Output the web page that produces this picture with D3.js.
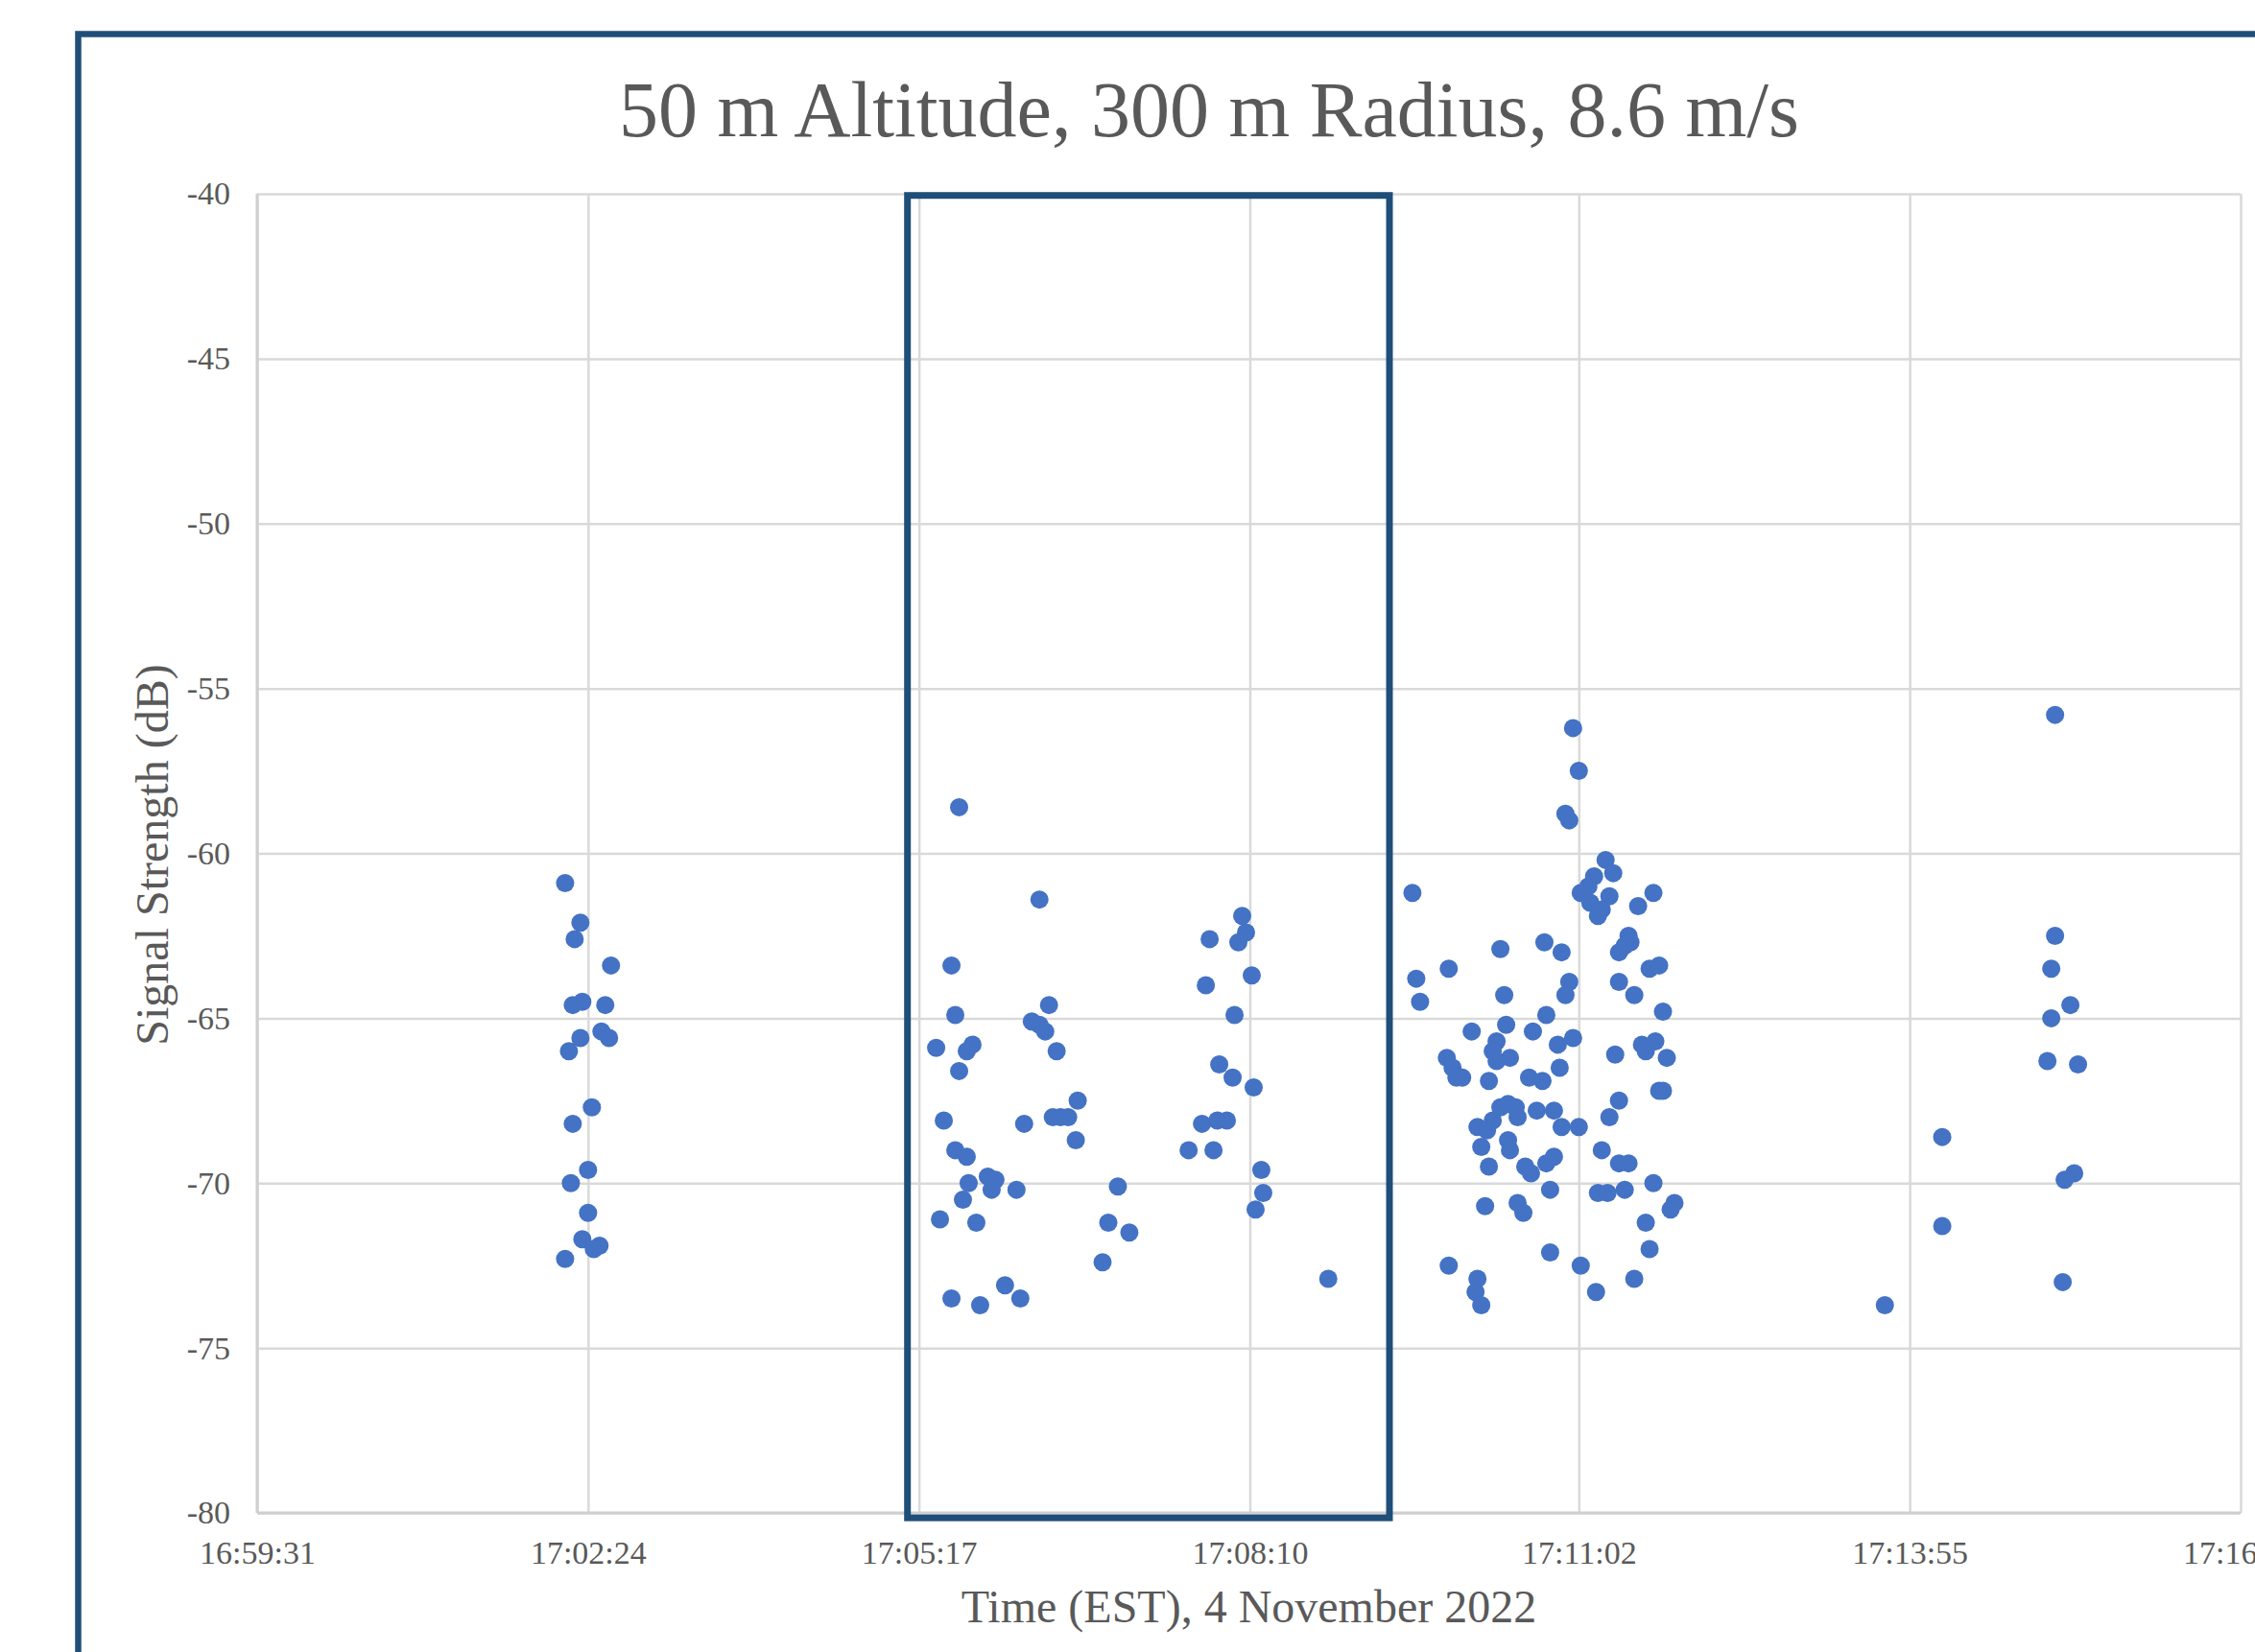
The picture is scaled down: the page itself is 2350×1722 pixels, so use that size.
<!DOCTYPE html>
<html>
<head>
<meta charset="utf-8">
<script src="https://cdn.jsdelivr.net/npm/d3@7"></script>
<style>
  body { margin: 0; background: #fff; }
  svg { display: block; font-family: "Liberation Serif", "Times New Roman", serif; }
</style>
</head>
<body>
<script>
// Chart text
const chartTitle = "50 m Altitude, 300 m Radius, 8.6 m/s";
const xTitle = "Time (EST), 4 November 2022";
const yTitle = "Signal Strength (dB)";

// Axis ticks
const xTickLabels = ["16:59:31", "17:02:24", "17:05:17", "17:08:10", "17:11:02", "17:13:55", "17:16:48"];
const yTickValues = [-40, -45, -50, -55, -60, -65, -70, -75, -80];

// Highlighted window (time range, dB range)
const highlightTimes = ["17:05:11", "17:09:23"];
const highlightDb = [-40.05, -80.15];

// Samples, grouped by pass over the receiver
const pass1Times = ["17:02:12", "17:02:20", "17:02:17", "17:02:36", "17:02:16", "17:02:21", "17:02:33", "17:02:20", "17:02:31", "17:02:35",
  "17:02:14", "17:02:26", "17:02:16", "17:02:24", "17:02:15", "17:02:24", "17:02:21", "17:02:30", "17:02:27", "17:02:12"];
const pass1Db = [-60.9, -62.1, -62.6, -63.4, -64.6, -64.5, -64.6, -65.6, -65.4, -65.6,
  -66.0, -67.7, -68.2, -69.6, -70.0, -70.9, -71.7, -71.9, -72.0, -72.3];

const pass2Times = ["17:05:38", "17:06:20", "17:05:34", "17:06:25", "17:05:36", "17:06:16", "17:06:20", "17:06:23", "17:05:26", "17:05:45",
  "17:05:42", "17:06:29", "17:05:38", "17:06:40", "17:05:30", "17:06:12", "17:06:27", "17:06:31", "17:06:35", "17:06:39",
  "17:05:36", "17:05:42", "17:05:53", "17:05:57", "17:05:43", "17:05:55", "17:06:08", "17:07:01", "17:05:40", "17:05:28",
  "17:05:47", "17:06:56", "17:07:07", "17:06:53", "17:05:34", "17:05:49", "17:06:02", "17:06:10"];
const pass2Db = [-58.6, -61.4, -63.4, -64.6, -64.9, -65.1, -65.2, -65.4, -65.9, -65.8,
  -66.0, -66.0, -66.6, -67.5, -68.1, -68.2, -68.0, -68.0, -68.0, -68.7,
  -69.0, -69.2, -69.8, -69.9, -70.0, -70.2, -70.2, -70.1, -70.5, -71.1,
  -71.2, -71.2, -71.5, -72.4, -73.5, -73.7, -73.1, -73.5];

const pass3Times = ["17:08:06", "17:08:08", "17:08:04", "17:07:49", "17:08:11", "17:07:47", "17:08:02", "17:07:54", "17:08:01", "17:08:12",
  "17:07:45", "17:07:53", "17:07:58", "17:07:38", "17:07:51", "17:08:16", "17:08:17", "17:08:13", "17:08:51"];
const pass3Db = [-61.9, -62.4, -62.7, -62.6, -63.7, -64.0, -64.9, -66.4, -66.8, -67.1,
  -68.2, -68.1, -68.1, -69.0, -69.0, -69.6, -70.3, -70.8, -72.9];

const pass4Times = ["17:10:59", "17:11:02", "17:10:55", "17:10:57", "17:11:16", "17:11:20", "17:11:10", "17:09:35", "17:11:41", "17:11:03",
  "17:11:07", "17:11:18", "17:11:08", "17:11:14", "17:11:12", "17:11:33", "17:11:28", "17:11:29", "17:11:23", "17:11:26",
  "17:10:44", "17:10:53", "17:10:21", "17:09:54", "17:09:37", "17:10:57", "17:11:39", "17:11:44", "17:11:23", "17:10:55",
  "17:10:23", "17:09:39", "17:11:31", "17:11:46", "17:10:45", "17:10:06", "17:10:24", "17:10:38", "17:10:51", "17:10:59",
  "17:10:19", "17:10:17", "17:10:19", "17:10:26", "17:09:53", "17:09:56", "17:09:58", "17:10:01", "17:10:15", "17:10:36",
  "17:10:43", "17:10:52", "17:11:21", "17:11:35", "17:11:42", "17:11:37", "17:11:48", "17:11:44", "17:11:46", "17:11:23",
  "17:11:18", "17:10:25", "17:10:21", "17:10:29", "17:10:30", "17:10:17", "17:10:09", "17:10:14", "17:10:40", "17:10:49",
  "17:10:53", "17:11:02", "17:10:11", "17:10:25", "17:10:26", "17:10:15", "17:10:34", "17:10:37", "17:10:45", "17:10:49",
  "17:11:14", "17:11:23", "17:11:28", "17:10:47", "17:11:12", "17:11:17", "17:11:26", "17:11:41", "17:10:13", "17:10:30",
  "17:10:33", "17:11:52", "17:11:50", "17:11:37", "17:11:39", "17:10:47", "17:11:03", "17:09:54", "17:10:09", "17:10:08",
  "17:10:11", "17:11:11", "17:11:31"];
const pass4Db = [-56.2, -57.5, -58.8, -59.0, -60.2, -60.6, -60.7, -61.2, -61.2, -61.2,
  -61.0, -61.3, -61.5, -61.7, -61.9, -61.6, -62.5, -62.7, -63.0, -62.8,
  -62.7, -63.0, -62.9, -63.5, -63.8, -63.9, -63.5, -63.4, -63.9, -64.3,
  -64.3, -64.5, -64.3, -64.8, -64.9, -65.4, -65.2, -65.4, -65.8, -65.6,
  -65.7, -66.0, -66.3, -66.2, -66.2, -66.5, -66.8, -66.8, -66.9, -66.8,
  -66.9, -66.5, -66.1, -65.8, -65.7, -66.0, -66.2, -67.2, -67.2, -67.5,
  -68.0, -67.6, -67.7, -67.7, -68.0, -68.1, -68.3, -68.4, -67.8, -67.8,
  -68.3, -68.3, -68.9, -68.7, -69.0, -69.5, -69.5, -69.7, -69.4, -69.2,
  -69.0, -69.4, -69.4, -70.2, -70.3, -70.3, -70.2, -70.0, -70.7, -70.6,
  -70.9, -70.6, -70.8, -71.2, -72.0, -72.1, -72.5, -72.5, -72.9, -73.3,
  -73.7, -73.3, -72.9];

const pass5Times = ["17:15:11", "17:15:11", "17:15:09", "17:15:19", "17:15:09", "17:15:07", "17:15:23", "17:14:12", "17:15:21", "17:15:16",
  "17:14:12", "17:15:15", "17:13:42"];
const pass5Db = [-55.8, -62.5, -63.5, -64.6, -65.0, -66.3, -66.4, -68.6, -69.7, -69.9,
  -71.3, -73.0, -73.7];

// Dimensions
const width = 2350;
const height = 1722;
const plot = { left: 268, right: 2335, top: 202, bottom: 1577 };
const textColor = "#595959";
const frameColor = "#1F4E79";

// Time string -> seconds since midnight
const toSeconds = (s) => {
  const [h, m, sec] = s.split(":").map(Number);
  return h * 3600 + m * 60 + sec;
};

const samples = [
  [pass1Times, pass1Db],
  [pass2Times, pass2Db],
  [pass3Times, pass3Db],
  [pass4Times, pass4Db],
  [pass5Times, pass5Db],
].flatMap(([t, v]) => t.map((d, i) => ({ t: toSeconds(d), db: v[i] })));

const svg = d3
  .select("body")
  .append("svg")
  .attr("width", width)
  .attr("height", height);

svg.append("rect").attr("width", width).attr("height", height).attr("fill", "#fff");

// Scales
const xTicks = xTickLabels.map(toSeconds);
const x = d3
  .scaleLinear()
  .domain([xTicks[0], xTicks[xTicks.length - 1]])
  .range([plot.left, plot.right]);
const y = d3.scaleLinear().domain([-80, -40]).range([plot.bottom, plot.top]);

// Gridlines
svg
  .append("g")
  .attr("class", "grid")
  .attr("transform", `translate(0, ${plot.bottom})`)
  .call(d3.axisBottom(x).tickValues(xTicks).tickSize(-(plot.bottom - plot.top)).tickFormat(""));
svg
  .append("g")
  .attr("class", "grid")
  .attr("transform", `translate(${plot.left}, 0)`)
  .call(d3.axisLeft(y).tickValues(yTickValues).tickSize(-(plot.right - plot.left)).tickFormat(""));
svg.selectAll(".grid .domain").remove();
svg.selectAll(".grid line").attr("stroke", "#d9d9d9").attr("stroke-width", 2.5);

// Axis lines
svg
  .append("line")
  .attr("x1", plot.left).attr("x2", plot.right)
  .attr("y1", plot.bottom).attr("y2", plot.bottom)
  .attr("stroke", "#cfcfcf").attr("stroke-width", 3);
svg
  .append("line")
  .attr("x1", plot.left).attr("x2", plot.left)
  .attr("y1", plot.top).attr("y2", plot.bottom)
  .attr("stroke", "#cfcfcf").attr("stroke-width", 3);

// Tick labels (plain hyphen for negatives, as in the original)
const xAxis = svg
  .append("g")
  .attr("transform", `translate(0, ${plot.bottom})`)
  .call(
    d3.axisBottom(x).tickValues(xTicks).tickSize(0).tickPadding(29)
      .tickFormat((d, i) => xTickLabels[i])
  );
const yAxis = svg
  .append("g")
  .attr("transform", `translate(${plot.left}, 0)`)
  .call(d3.axisLeft(y).tickValues(yTickValues).tickSize(0).tickPadding(28).tickFormat((d) => `${d}`));
[xAxis, yAxis].forEach((g) => {
  g.select(".domain").remove();
  g.selectAll("text")
    .attr("fill", textColor)
    .style("font-size", "34px")
    .style("font-family", "'Liberation Serif', 'Times New Roman', serif");
});

// Points
svg
  .append("g")
  .selectAll("circle")
  .data(samples)
  .join("circle")
  .attr("cx", (d) => x(d.t))
  .attr("cy", (d) => y(d.db))
  .attr("r", 9.5)
  .attr("fill", "#4472C4");

// Highlight box
const hx0 = x(toSeconds(highlightTimes[0]));
const hx1 = x(toSeconds(highlightTimes[1]));
svg
  .append("rect")
  .attr("x", hx0)
  .attr("y", y(highlightDb[0]))
  .attr("width", hx1 - hx0)
  .attr("height", y(highlightDb[1]) - y(highlightDb[0]))
  .attr("fill", "none")
  .attr("stroke", frameColor)
  .attr("stroke-width", 7);

// Titles
svg
  .append("text")
  .attr("x", 1260)
  .attr("y", 142)
  .attr("text-anchor", "middle")
  .attr("fill", textColor)
  .style("font-size", "82px")
  .text(chartTitle);
svg
  .append("text")
  .attr("x", (plot.left + plot.right) / 2)
  .attr("y", 1691)
  .attr("text-anchor", "middle")
  .attr("fill", textColor)
  .style("font-size", "48px")
  .text(xTitle);
svg
  .append("text")
  .attr("transform", `translate(175, 891) rotate(-90)`)
  .attr("text-anchor", "middle")
  .attr("fill", textColor)
  .style("font-size", "48px")
  .text(yTitle);

// Chart frame (runs off the right and bottom edges)
svg
  .append("rect")
  .attr("x", 81.5)
  .attr("y", 35.5)
  .attr("width", 2600)
  .attr("height", 2000)
  .attr("fill", "none")
  .attr("stroke", frameColor)
  .attr("stroke-width", 6.5);
</script>
</body>
</html>
